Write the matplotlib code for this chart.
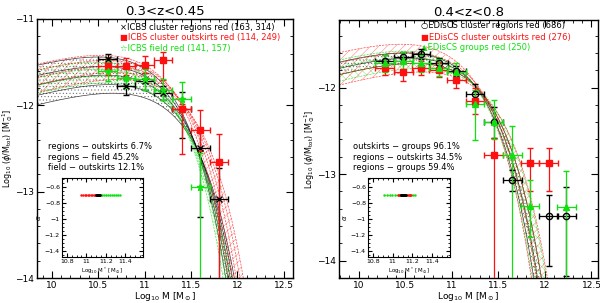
import numpy as np
import matplotlib
matplotlib.use("Agg")
import matplotlib.pyplot as plt
from matplotlib.ticker import MultipleLocator

plt.rcParams['font.family'] = ['DejaVu Sans']
plt.rcParams['hatch.linewidth'] = 0.4

# ---- left panel data (ICBS, 0.3<z<0.45) ----
left_mass = [10.6, 10.8, 11.0, 11.2, 11.4, 11.6, 11.8]
icbs_regions = [-11.46, -11.78, -11.72, -11.86, -12.04, -12.49, -13.09]
icbs_regions_up = [0.05, 0.10, 0.10, 0.08, 0.20, 0.20, 0.36]
icbs_regions_dn = [0.05, 0.10, 0.10, 0.08, 0.34, 0.80, 2.00]
icbs_outskirts = [-11.55, -11.55, -11.53, -11.48, -12.04, -12.28, -12.66]
icbs_outskirts_up = [0.10, 0.10, 0.10, 0.10, 0.05, 0.23, 0.33]
icbs_outskirts_dn = [0.10, 0.10, 0.10, 0.23, 0.52, 0.25, 2.00]
icbs_field = [-11.60, -11.68, -11.70, -11.82, -11.93, -12.95, np.nan]
icbs_field_up = [0.12, 0.12, 0.12, 0.12, 0.20, 0.40, 0.0]
icbs_field_dn = [0.12, 0.12, 0.12, 0.12, 0.15, 2.00, 0.0]

# ---- right panel data (EDisCS, 0.4<z<0.8) ----
right_mass = [10.28, 10.48, 10.67, 10.86, 11.05, 11.25, 11.45, 11.65, 11.84, 12.04, 12.23]
edis_regions = [-11.69, -11.65, -11.61, -11.72, -11.81, -12.08, -12.40, -13.07, np.nan, -13.48, -13.48]
edis_regions_up = [0.06, 0.06, 0.06, 0.06, 0.06, 0.12, 0.18, 0.12, 0, 0.24, 0.33]
edis_regions_dn = [0.06, 0.06, 0.06, 0.06, 0.06, 0.12, 0.18, 0.12, 0, 0.58, 0.70]
edis_outskirts = [-11.78, -11.82, -11.77, -11.80, -11.91, -12.16, -12.78, np.nan, -12.87, -12.87, np.nan]
edis_outskirts_up = [0.08, 0.10, 0.08, 0.08, 0.10, 0.15, 0.20, 0, 0.17, 0.17, 0]
edis_outskirts_dn = [0.08, 0.10, 0.08, 0.08, 0.10, 0.15, 2.00, 0, 0.32, 0.32, 0]
edis_groups = [-11.72, -11.69, -11.72, -11.77, -11.82, -12.19, -12.40, -12.78, -13.37, np.nan, -13.38]
edis_groups_up = [0.10, 0.10, 0.10, 0.10, 0.10, 0.16, 0.26, 0.34, 0.30, 0, 0.42]
edis_groups_dn = [0.10, 0.10, 0.10, 0.10, 0.10, 0.42, 0.20, 2.00, 0.36, 0, 2.00]

# ---- Schechter fit bands: (M*, peak log phi), alpha fixed ----
alpha = -0.7
left_fits = {
    'k': ([11.02, 11.06, 11.10, 11.14, 11.18], [-11.44, -11.55, -11.65, -11.76, -11.86]),
    'r': ([11.05, 11.10, 11.15, 11.20, 11.25], [-11.42, -11.48, -11.55, -11.62, -11.70]),
    'g': ([11.00, 11.04, 11.08, 11.12], [-11.50, -11.58, -11.66, -11.74]),
}
right_fits = {
    'k': ([11.02, 11.07, 11.12], [-11.60, -11.66, -11.72]),
    'r': ([10.98, 11.05, 11.12, 11.20], [-11.50, -11.60, -11.72, -11.82]),
    'g': ([11.00, 11.06, 11.12, 11.18], [-11.58, -11.65, -11.72, -11.78]),
}
# inset: M* range covered by each sample at alpha = -0.7
left_inset = {'r': [10.95, 11.12], 'g': [11.12, 11.34], 'k': [11.10, 11.14]}
right_inset = {'g': [10.91, 11.23], 'r': [11.05, 11.19], 'k': [11.08, 11.13]}

left_stats = ['regions \u2212 outskirts 6.7%', 'regions \u2212 field 45.2%', 'field \u2212 outskirts 12.1%']
right_stats = ['outskirts \u2212 groups 96.1%', 'regions \u2212 outskirts 34.5%', 'regions \u2212 groups 59.4%']

RED = '#ff1010'
GREEN = '#10e010'
colors = {'k': 'black', 'r': RED, 'g': GREEN}
hatches = {'k': '.....', 'r': '////', 'g': '\\\\\\\\'}


def schechter(m, mstar, peak):
    d0 = np.log10(alpha + 1)
    off = (alpha + 1) * d0 - 10 ** d0 / np.log(10)
    d = m - mstar
    return peak - off + (alpha + 1) * d - 10 ** d / np.log(10)


def draw_bands(ax, fits, xlim):
    m = np.linspace(xlim[0], xlim[1], 400)
    for key in ['k', 'g', 'r']:
        mstars, peaks = fits[key]
        curves = np.array([schechter(m, ms, p) for ms, p in zip(mstars, peaks)])
        ax.fill_between(m, curves.min(axis=0), curves.max(axis=0), facecolor='none',
                        edgecolor=colors[key], hatch=hatches[key], linewidth=0, alpha=0.5, zorder=1)
        for c in curves:
            ax.plot(m, c, color=colors[key], lw=0.5, ls='-' if key == 'k' else (0, (3, 1.5)),
                    alpha=0.75, zorder=2)


def draw_points(ax, x, y, up, dn, color, marker, mfc):
    ax.errorbar(x, y, yerr=[dn, up], xerr=0.1, fmt=marker, color=color, mfc=mfc, mec=color,
                ms=4.5, elinewidth=0.9, capsize=2, capthick=0.9, mew=1.0, zorder=4)


def style_axes(ax, xlim, ylim, ymajor):
    ax.set_xlim(*xlim)
    ax.set_ylim(*ylim)
    ax.xaxis.set_major_locator(MultipleLocator(0.5))
    ax.xaxis.set_minor_locator(MultipleLocator(0.1))
    ax.yaxis.set_major_locator(MultipleLocator(ymajor))
    ax.yaxis.set_minor_locator(MultipleLocator(0.2))
    ax.tick_params(which='both', direction='in', top=True, right=True, labelsize=6.5, pad=2)
    ax.tick_params(which='major', length=5)
    ax.tick_params(which='minor', length=2.5)
    ax.set_xticks([10, 10.5, 11, 11.5, 12, 12.5])
    ax.set_xticklabels(['10', '10.5', '11', '11.5', '12', '12.5'])
    ax.set_xlabel(r'Log$_{10}$ M [M$_\odot$]', fontsize=6.5, labelpad=0.5)
    ax.set_ylabel(r'Log$_{10}$ ($\phi$/M$_{\rm tot}$) [M$_\odot^{-1}$]', fontsize=5.8, labelpad=0.5)
    for s in ax.spines.values():
        s.set_linewidth(1.0)


def draw_inset(fig, rect, ranges):
    ia = fig.add_axes(rect)
    ia.set_xlim(10.75, 11.58)
    ia.set_ylim(-1.48, -0.49)
    ia.set_xticks([10.8, 11, 11.2, 11.4])
    ia.set_xticklabels(['10.8', '11', '11.2', '11.4'])
    ia.set_yticks([-0.6, -0.8, -1, -1.2, -1.4])
    ia.set_yticklabels(['\u22120.6', '\u22120.8', '\u22121', '\u22121.2', '\u22121.4'])
    ia.xaxis.set_minor_locator(MultipleLocator(0.05))
    ia.yaxis.set_minor_locator(MultipleLocator(0.05))
    ia.tick_params(which='both', direction='in', top=True, right=True, labelsize=4.5, pad=1.5)
    ia.tick_params(which='major', length=3)
    ia.tick_params(which='minor', length=1.5)
    ia.set_xlabel(r'Log$_{10}$ M$^*$ [M$_\odot$]', fontsize=4, labelpad=1)
    ia.set_ylabel(r'$\alpha$', fontsize=5, labelpad=1)
    for key in ['g', 'r', 'k']:
        xs = np.linspace(ranges[key][0], ranges[key][1], 12)
        ia.plot(xs, np.full_like(xs, alpha), color=colors[key], lw=1.0, ls=':',
                marker='.', ms=1.5)
    return ia


fig = plt.figure(figsize=(6.0, 3.03), dpi=100)

# left panel
axl = fig.add_axes([0.0617, 0.0825, 0.4267, 0.8548])
lxlim, lylim = (9.84, 12.6), (-14, -11)
draw_bands(axl, left_fits, lxlim)
draw_points(axl, left_mass, icbs_regions, icbs_regions_up, icbs_regions_dn, 'black', 'x', 'black')
draw_points(axl, left_mass, icbs_outskirts, icbs_outskirts_up, icbs_outskirts_dn, RED, 's', RED)
draw_points(axl, left_mass, icbs_field, icbs_field_up, icbs_field_dn, GREEN, '*', GREEN)
style_axes(axl, lxlim, lylim, 1)
axl.set_title('0.3<z<0.45', fontsize=9.5, pad=3)
leg_y = [0.969, 0.929, 0.887]
axl.text(0.324, leg_y[0], '\u00d7ICBS cluster regions red (163, 314)', color='black',
         fontsize=6, va='center', transform=axl.transAxes)
axl.text(0.324, leg_y[1], '\u25a0ICBS cluster outskirts red (114, 249)', color=RED,
         fontsize=6, va='center', transform=axl.transAxes)
axl.text(0.324, leg_y[2], '\u2606ICBS field red (141, 157)', color=GREEN,
         fontsize=6, va='center', transform=axl.transAxes)
for i, s in enumerate(left_stats):
    axl.text(0.043, 0.506 - i * 0.04, s, fontsize=6, va='center', transform=axl.transAxes)
draw_inset(fig, [0.1033, 0.1518, 0.135, 0.2607], left_inset)

# right panel
axr = fig.add_axes([0.565, 0.0825, 0.4317, 0.8515])
rxlim, rylim = (9.79, 12.57), (-14.2, -11.22)
draw_bands(axr, right_fits, rxlim)
draw_points(axr, right_mass, edis_regions, edis_regions_up, edis_regions_dn, 'black', 'o', 'none')
draw_points(axr, right_mass, edis_outskirts, edis_outskirts_up, edis_outskirts_dn, RED, 's', RED)
draw_points(axr, right_mass, edis_groups, edis_groups_up, edis_groups_dn, GREEN, '^', GREEN)
style_axes(axr, rxlim, rylim, 1)
axr.set_title('0.4<z<0.8', fontsize=9.5, pad=3)
leg_y = [0.977, 0.934, 0.892]
axr.text(0.317, leg_y[0], '\u25cbEDisCS cluster regions red (686)', color='black',
         fontsize=6, va='center', transform=axr.transAxes)
axr.text(0.317, leg_y[1], '\u25a0EDisCS cluster outskirts red (276)', color=RED,
         fontsize=6, va='center', transform=axr.transAxes)
axr.text(0.317, leg_y[2], '\u25b2EDisCS groups red (250)', color=GREEN,
         fontsize=6, va='center', transform=axr.transAxes)
for i, s in enumerate(right_stats):
    axr.text(0.054, 0.508 - i * 0.04, s, fontsize=6, va='center', transform=axr.transAxes)
draw_inset(fig, [0.6133, 0.1518, 0.1367, 0.2607], right_inset)

fig.savefig('out.png', dpi=100)
